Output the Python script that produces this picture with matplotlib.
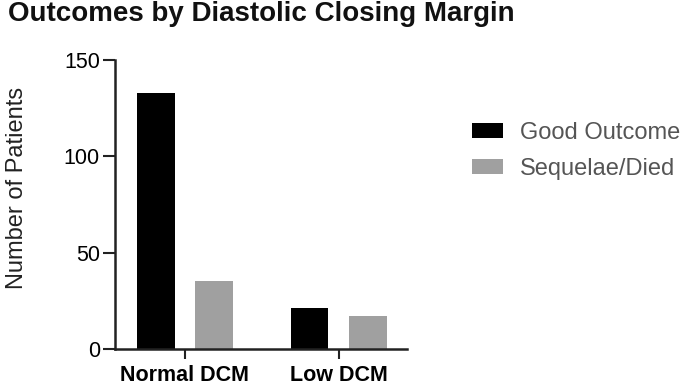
import numpy as np
import matplotlib.pyplot as plt

plt.rcParams['font.family'] = ['Liberation Sans', 'DejaVu Sans']

groups = ['Normal DCM', 'Low DCM']
good_outcome = [133, 21]
sequelae_died = [35, 17]

fig = plt.figure(figsize=(6.85, 3.85), dpi=100)
ax = fig.add_axes([0.168, 0.094, 0.426, 0.750])

x = np.arange(len(groups))
w = 0.245
off = 0.19
ax.bar(x - off, good_outcome, w, color='black', label='Good Outcome')
ax.bar(x + off, sequelae_died, w, color='#a0a0a0', label='Sequelae/Died')

ax.set_xlim(-0.455, 1.445)
ax.set_ylim(0, 150)
ax.set_yticks([0, 50, 100, 150])
ax.set_xticks(x)
ax.set_xticklabels(groups, fontsize=15.5, fontweight='bold')
ax.tick_params(axis='y', labelsize=15.5, width=1.5, length=9, color='#222222', pad=2)
ax.tick_params(axis='x', width=1.5, length=7, color='#222222', pad=5)
for s in ['top', 'right']:
    ax.spines[s].set_visible(False)
for s in ['left', 'bottom']:
    ax.spines[s].set_linewidth(1.8)
    ax.spines[s].set_color('#222222')

ax.set_ylabel('Number of Patients', fontsize=17, color='#222222')
ax.yaxis.set_label_coords(-0.298, 0.557)

fig.text(0.011, 0.945, 'Outcomes by Diastolic Closing Margin', fontsize=20,
         fontweight='bold', ha='left', va='baseline', color='#111111')

leg = ax.legend(loc='center left', bbox_to_anchor=(472 / 685, 0.608),
                bbox_transform=fig.transFigure, frameon=False, borderpad=0,
                borderaxespad=0, fontsize=17, handlelength=1.3,
                handleheight=0.63, handletextpad=0.72, labelspacing=0.6)
for t in leg.get_texts():
    t.set_color('#555555')

fig.savefig('out.png', dpi=100)
